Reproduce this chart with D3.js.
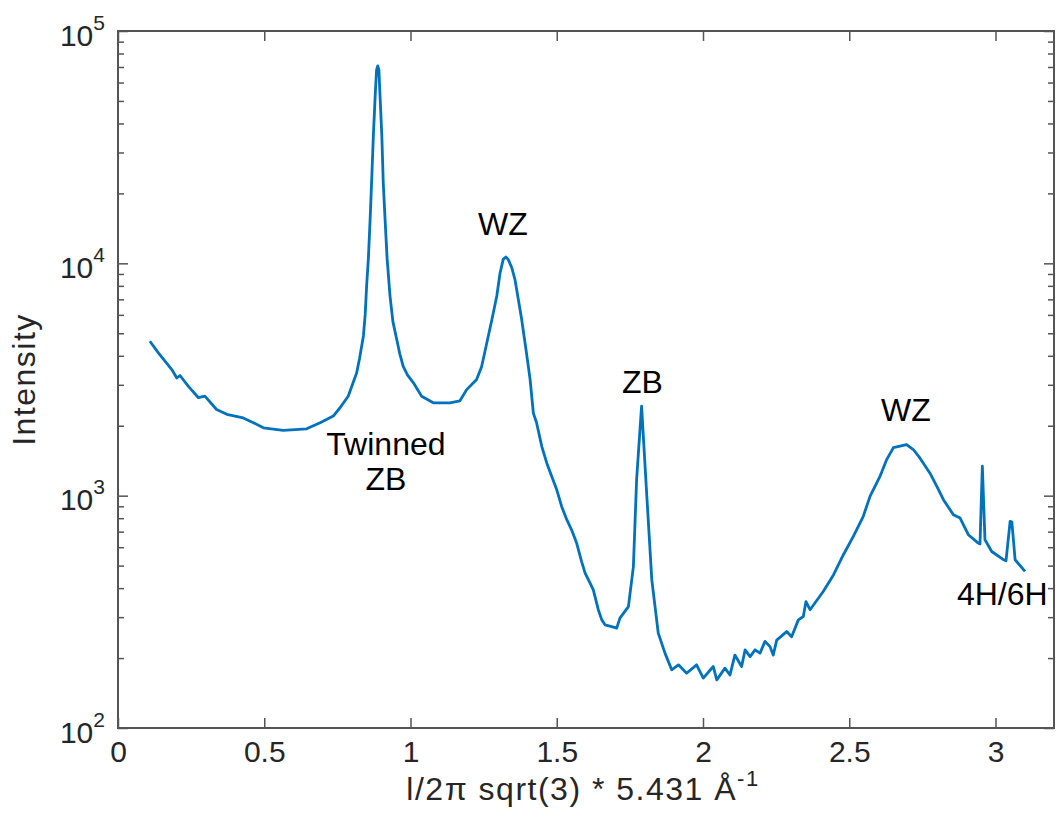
<!DOCTYPE html>
<html>
<head>
<meta charset="utf-8">
<script src="https://cdn.jsdelivr.net/npm/d3@7"></script>
<style>
	body { margin: 0; background: #ffffff; }
	text { font-family: "Liberation Sans", Arial, Helvetica, sans-serif; }
	.axis text { fill: #262626; font-size: 30px; }
	.axis line { stroke: #555555; stroke-width: 1.5; }
	.axis path { display: none; }
</style>
</head>
<body>
<div id="container"></div>
<script>

// intensity scan
var qValues = [0.109, 0.138, 0.184, 0.201, 0.212, 0.240, 0.275, 0.297, 0.337, 0.372,
	0.428, 0.463, 0.497, 0.565, 0.645, 0.691, 0.736, 0.759, 0.787, 0.816,
	0.826, 0.839, 0.845, 0.850, 0.856, 0.862, 0.868, 0.873, 0.880, 0.884,
	0.888, 0.892, 0.896, 0.902, 0.907, 0.913, 0.920, 0.930, 0.940, 0.953,
	0.963, 0.975, 0.990, 1.010, 1.038, 1.078, 1.135, 1.169, 1.192, 1.226,
	1.243, 1.261, 1.278, 1.295, 1.306, 1.317, 1.326, 1.334, 1.346, 1.357,
	1.369, 1.380, 1.395, 1.409, 1.420, 1.431, 1.449, 1.466, 1.483, 1.500,
	1.517, 1.534, 1.551, 1.568, 1.585, 1.597, 1.614, 1.625, 1.642, 1.654,
	1.665, 1.688, 1.705, 1.716, 1.745, 1.762, 1.773, 1.790, 1.808, 1.825,
	1.847, 1.870, 1.893, 1.916, 1.944, 1.978, 2.001, 2.035, 2.047, 2.075,
	2.092, 2.109, 2.132, 2.144, 2.161, 2.178, 2.195, 2.212, 2.229, 2.240,
	2.252, 2.286, 2.303, 2.326, 2.343, 2.352, 2.366, 2.411, 2.446, 2.480,
	2.514, 2.548, 2.571, 2.605, 2.628, 2.651, 2.696, 2.719, 2.742, 2.776,
	2.799, 2.822, 2.856, 2.879, 2.907, 2.941, 2.947, 2.955, 2.964, 2.987,
	3.027, 3.036, 3.050, 3.056, 3.067, 3.101];
var intensity = [4620, 4120, 3490, 3210, 3290, 2960, 2640, 2680, 2350, 2240,
	2160, 2060, 1960, 1910, 1940, 2060, 2200, 2390, 2680, 3380,
	3900, 4870, 6000, 7990, 10500, 15500, 24000, 35400, 55000, 68000,
	70800, 68000, 52000, 35400, 22000, 15500, 10500, 7230, 5600, 4700,
	4100, 3600, 3300, 3060, 2680, 2510, 2510, 2560, 2860, 3160,
	3590, 4550, 5700, 7230, 9060, 10400, 10650, 10400, 9600, 8540,
	6950, 5740, 4240, 3160, 2265, 2060, 1626, 1380, 1208, 1060,
	897, 790, 711, 625, 520, 464, 420, 393, 323, 292,
	278, 273, 269, 297, 333, 495, 1170, 2430, 993, 434,
	256, 210, 178, 187, 172, 187, 164, 184, 161, 181,
	169, 206, 184, 217, 203, 217, 210, 236, 224, 206,
	239, 260, 247, 292, 302, 350, 323, 387, 456, 557,
	668, 815, 993, 1210, 1430, 1610, 1660, 1580, 1450, 1250,
	1100, 961, 828, 801, 679, 625, 620, 1340, 646, 575,
	530, 525, 775, 770, 530, 472];

// tick values
var xTicks = [0, 0.5, 1, 1.5, 2, 2.5, 3];
var yTicks = [1e2, 1e3, 1e4, 1e5];

// peak annotations
var peakNames = ["WZ", "Twinned", "ZB", "ZB", "WZ", "4H/6H"];
var peakQ = [1.316, 0.916, 0.916, 1.793, 2.694, 2.868];
var peakI = [13250, 1496, 1058, 2770, 2100, 340];

function drawChart() {

	var width = 1056;
	var height = 823;
	var margin = {left: 118, top: 31, right: 2, bottom: 95};

	var svg = d3.select("#container")
		.append("svg")
		.attr("width", width)
		.attr("height", height);

	var x = d3.scaleLinear()
		.domain([0, 3.2])
		.range([margin.left, width - margin.right]);
	var y = d3.scaleLog()
		.domain([1e2, 1e5])
		.range([height - margin.bottom, margin.top]);

	// minor ticks for the log axis
	var minorTicks = [];
	for (var e = 2; e < 5; e++) {
		for (var m = 2; m < 10; m++) {
			minorTicks.push(m * Math.pow(10, e));
		}
	}

	var x0 = x.range()[0], x1 = x.range()[1];
	var y0 = y.range()[0], y1 = y.range()[1];

	// bottom and top axis
	svg.append("g")
		.attr("class", "axis")
		.attr("transform", "translate(0," + y0 + ")")
		.call(d3.axisBottom(x).tickValues(xTicks).tickSize(-10).tickPadding(13)
			.tickFormat(function(d) { return d; }));
	svg.append("g")
		.attr("class", "axis")
		.attr("transform", "translate(0," + y1 + ")")
		.call(d3.axisTop(x).tickValues(xTicks).tickSize(-10).tickFormat(""));

	// left axis with powers of ten
	var yAxis = svg.append("g")
		.attr("class", "axis")
		.attr("transform", "translate(" + x0 + ",0)")
		.call(d3.axisLeft(y).tickValues(yTicks).tickSize(-10).tickPadding(13));
	yAxis.selectAll("text")
		.attr("dy", 14)
		.each(function(d) {
			var t = d3.select(this);
			t.text(null);
			t.append("tspan").text("10");
			t.append("tspan")
				.attr("dy", -16)
				.style("font-size", "21px")
				.text(Math.round(Math.log10(d)));
		});
	svg.append("g")
		.attr("class", "axis")
		.attr("transform", "translate(" + x0 + ",0)")
		.call(d3.axisLeft(y).tickValues(minorTicks).tickSize(-6).tickFormat(""));

	// right axis
	svg.append("g")
		.attr("class", "axis")
		.attr("transform", "translate(" + x1 + ",0)")
		.call(d3.axisRight(y).tickValues(yTicks).tickSize(-10).tickFormat(""));
	svg.append("g")
		.attr("class", "axis")
		.attr("transform", "translate(" + x1 + ",0)")
		.call(d3.axisRight(y).tickValues(minorTicks).tickSize(-6).tickFormat(""));

	// box round the plot
	svg.append("rect")
		.attr("x", x0)
		.attr("y", y1)
		.attr("width", x1 - x0)
		.attr("height", y0 - y1)
		.style("fill", "none")
		.style("stroke", "#555555")
		.style("stroke-width", 2);

	// the scan
	var line = d3.line()
		.x(function(d, i) { return x(qValues[i]); })
		.y(function(d, i) { return y(intensity[i]); });
	svg.append("path")
		.datum(qValues)
		.attr("d", line)
		.style("fill", "none")
		.style("stroke", "#0072BD")
		.style("stroke-width", 2.8)
		.style("stroke-linejoin", "round");

	// peak labels
	svg.selectAll(".peakLabel")
		.data(peakNames)
		.enter()
		.append("text")
		.attr("class", "peakLabel")
		.attr("x", function(d, i) { return x(peakQ[i]); })
		.attr("y", function(d, i) { return y(peakI[i]); })
		.style("text-anchor", function(d, i) { return d == "4H/6H" ? "start" : "middle"; })
		.style("font-size", "32px")
		.style("fill", "#000000")
		.text(function(d) { return d; });

	// axis titles
	var xTitle = svg.append("text")
		.attr("x", (x0 + x1) / 2 - 3)
		.attr("y", 800)
		.style("text-anchor", "middle")
		.style("font-size", "32px")
		.style("fill", "#262626")
		.style("letter-spacing", "1.5px");
	xTitle.append("tspan").text("l/2\u03C0 sqrt(3) * 5.431 \u00C5");
	xTitle.append("tspan")
		.attr("dy", -14)
		.style("font-size", "22px")
		.text("-1");

	svg.append("text")
		.attr("transform", "translate(35," + ((y0 + y1) / 2) + ") rotate(-90)")
		.style("text-anchor", "middle")
		.style("font-size", "32px")
		.style("fill", "#262626")
		.style("letter-spacing", "1.5px")
		.text("Intensity");
};

drawChart();
</script>
</body>
</html>
